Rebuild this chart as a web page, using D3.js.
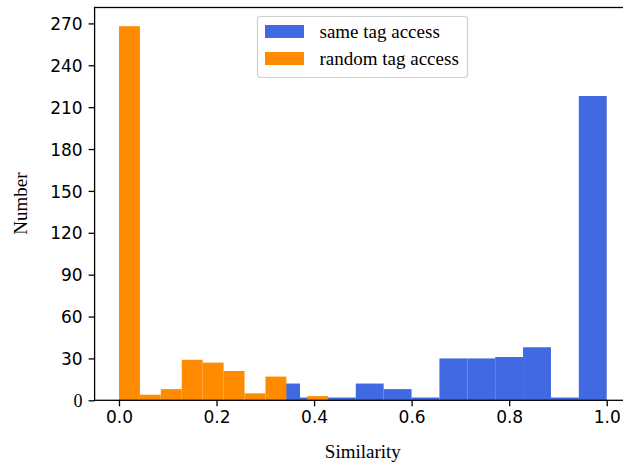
<!DOCTYPE html>
<html>
<head>
<meta charset="utf-8">
<script src="https://cdn.jsdelivr.net/npm/d3@7"></script>
<style>
  body { margin: 0; background: #fff; }
  .tick text { font-family: "DejaVu Sans", sans-serif; font-size: 17px; fill: #000; }
  .axis-text { font-family: "Liberation Serif", "Times New Roman", serif; font-size: 19px; fill: #000; }
</style>
</head>
<body>
<div id="chart"></div>
<script>
// histogram counts, one per bin, bins evenly spread over each range
var sameCounts = [12, 2, 2, 12, 8, 2, 30, 30, 31, 38, 2, 218];
var sameRange = [0.314, 1.0];
var randomCounts = [268, 4, 8, 29, 27, 21, 5, 17, 0, 3];
var randomRange = [0, 0.429];
var seriesNames = ["same tag access", "random tag access"];
var seriesColors = ["#4169E1", "#FF8C00"];
var xTicks = [0, 0.2, 0.4, 0.6, 0.8, 1.0];
var yTicks = [0, 30, 60, 90, 120, 150, 180, 210, 240, 270];

var svgWidth = 623;
var svgHeight = 464;
var plot = {left: 94.6, right: 631.1, top: 7.5, bottom: 400.3};

var svg = d3.select('#chart')
  .append('svg')
  .attr('width', svgWidth)
  .attr('height', svgHeight);

var xScale = d3.scaleLinear().domain([-0.05, 1.05]).range([plot.left, plot.right]);
var yScale = d3.scaleLinear().domain([0, 268 * 1.05]).range([plot.bottom, plot.top]);

// turn counts + range into bins
function toBins(counts, range) {
  var w = (range[1] - range[0]) / counts.length;
  return counts.map(function(c, i) {
    return {x0: range[0] + i * w, x1: range[0] + (i + 1) * w, count: c};
  });
}

var series = [toBins(sameCounts, sameRange), toBins(randomCounts, randomRange)];

series.forEach(function(bins, s) {
  svg.append('g').selectAll('rect')
    .data(bins.filter(function(d) { return d.count > 0; }))
    .enter()
    .append('rect')
    .attr('x', function(d) { return xScale(d.x0); })
    .attr('width', function(d) { return xScale(d.x1) - xScale(d.x0); })
    .attr('y', function(d) { return yScale(d.count); })
    .attr('height', function(d) { return yScale(0) - yScale(d.count); })
    .attr('fill', seriesColors[s]);
});

// axes
var bottomAxis = d3.axisBottom(xScale).tickValues(xTicks).tickFormat(d3.format('.1f')).tickSize(6).tickPadding(5);
var leftAxis = d3.axisLeft(yScale).tickValues(yTicks).tickSize(6).tickPadding(6);

var gx = svg.append('g')
  .attr('transform', 'translate(0,' + plot.bottom + ')')
  .call(bottomAxis);
var gy = svg.append('g')
  .attr('transform', 'translate(' + plot.left + ',0)')
  .call(leftAxis);

[gx, gy].forEach(function(g) {
  g.select('.domain').remove();
  g.selectAll('.tick line').attr('stroke', '#000').attr('stroke-width', 1.3);
});
gy.selectAll('.tick text').attr('dy', '0.36em');
// the zero label is set in the serif face
gy.selectAll('.tick text').filter(function(d) { return d === 0; })
  .style('font-family', '"Liberation Serif", serif').style('font-size', '18px');

// spines
svg.append('rect')
  .attr('x', plot.left)
  .attr('y', plot.top)
  .attr('width', plot.right - plot.left)
  .attr('height', plot.bottom - plot.top)
  .attr('fill', 'none')
  .attr('stroke', '#000')
  .attr('stroke-width', 1.3);

// axis labels
svg.append('text')
  .attr('class', 'axis-text')
  .attr('x', (plot.left + plot.right) / 2)
  .attr('y', 458)
  .attr('text-anchor', 'middle')
  .text('Similarity');

svg.append('text')
  .attr('class', 'axis-text')
  .attr('transform', 'translate(27,203.5) rotate(-90)')
  .attr('text-anchor', 'middle')
  .text('Number');

// legend
var legend = svg.append('g');
legend.append('rect')
  .attr('x', 257.5)
  .attr('y', 16.5)
  .attr('width', 210)
  .attr('height', 61)
  .attr('rx', 3)
  .attr('fill', '#fff')
  .attr('fill-opacity', 0.8)
  .attr('stroke', '#d0d0d0')
  .attr('stroke-width', 1.2);

var item = legend.selectAll('.item')
  .data(seriesNames)
  .enter()
  .append('g')
  .attr('transform', function(d, i) { return 'translate(0,' + (i * 27) + ')'; });

item.append('rect')
  .attr('x', 265)
  .attr('y', 25)
  .attr('width', 39)
  .attr('height', 13)
  .attr('fill', function(d, i) { return seriesColors[i]; });

item.append('text')
  .attr('class', 'axis-text')
  .attr('x', 319.5)
  .attr('y', 37.5)
  .text(function(d) { return d; });
</script>
</body>
</html>
